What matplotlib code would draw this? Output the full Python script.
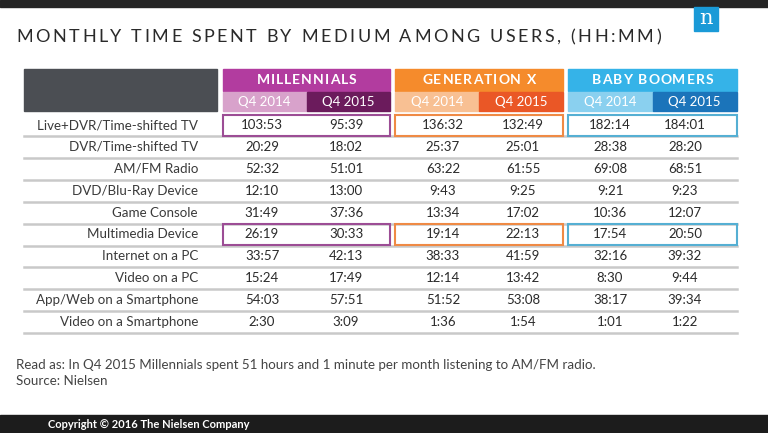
import matplotlib.pyplot as plt
from matplotlib.patches import Rectangle

media = ['Live+DVR/Time-shifted TV', 'DVR/Time-shifted TV', 'AM/FM Radio',
         'DVD/Blu-Ray Device', 'Game Console', 'Multimedia Device',
         'Internet on a PC', 'Video on a PC', 'App/Web on a Smartphone',
         'Video on a Smartphone']
groups = ['MILLENNIALS', 'GENERATION X', 'BABY BOOMERS']
quarters = ['Q4 2014', 'Q4 2015']

millennials_2014 = ['103:53', '20:29', '52:32', '12:10', '31:49', '26:19', '33:57', '15:24', '54:03', '2:30']
millennials_2015 = ['95:39', '18:02', '51:01', '13:00', '37:36', '30:33', '42:13', '17:49', '57:51', '3:09']
genx_2014 = ['136:32', '25:37', '63:22', '9:43', '13:34', '19:14', '38:33', '12:14', '51:52', '1:36']
genx_2015 = ['132:49', '25:01', '61:55', '9:25', '17:02', '22:13', '41:59', '13:42', '53:08', '1:54']
boomers_2014 = ['182:14', '28:38', '69:08', '9:21', '10:36', '17:54', '32:16', '8:30', '38:17', '1:01']
boomers_2015 = ['184:01', '28:20', '68:51', '9:23', '12:07', '20:50', '39:32', '9:44', '39:34', '1:22']
highlighted = ['Live+DVR/Time-shifted TV', 'Multimedia Device']

columns = [millennials_2014, millennials_2015, genx_2014, genx_2015, boomers_2014, boomers_2015]

group_color = ['#b23c9f', '#f58b2c', '#35b3e8']
q14_color = ['#d8a2cb', '#f8c093', '#8ad0ef']
q15_color = ['#6b1b5c', '#ea5726', '#1b74ba']
box_color = ['#9c4d95', '#ef8a45', '#55afd3']

plt.rcParams['font.family'] = ['Lato', 'DejaVu Sans']
fig = plt.figure(figsize=(7.68, 4.33), dpi=100)
ax = fig.add_axes([0, 0, 1, 1])
ax.set_xlim(0, 768)
ax.set_ylim(433, 0)
ax.axis('off')
renderer = fig.canvas.get_renderer()


def spaced_text(x, y, s, track, ha='left', **kw):
    # draw text one character at a time with extra letter spacing (px)
    widths = []
    for ch in s:
        t = ax.text(0, 0, ch if ch != ' ' else 'i', **kw)
        w = t.get_window_extent(renderer).width
        t.remove()
        widths.append(w)
    total = sum(widths) + track * (len(s) - 1)
    if ha == 'center':
        x = x - total / 2
    for ch, w in zip(s, widths):
        if ch != ' ':
            ax.text(x, y, ch, ha='left', va='center', **kw)
        x += w + track


# top and bottom bars
ax.add_patch(Rectangle((0, 0), 768, 7, color='#252525'))
ax.add_patch(Rectangle((0, 415), 768, 18, color='#1c1c1c'))
ax.text(48, 424, 'Copyright \u00a9 2016 The Nielsen Company', color='white',
        fontsize=8, va='center', fontweight='bold')

# logo
ax.add_patch(Rectangle((694, 7), 24, 24, color='#1a9ad7'))
ax.text(706, 19, 'n', color='white', fontsize=15, family='DejaVu Serif',
        ha='center', va='center')

spaced_text(16, 37, 'MONTHLY TIME SPENT BY MEDIUM AMONG USERS, (HH:MM)', 2.6,
            fontsize=13, color='#2a2a2a')

# header block
ax.add_patch(Rectangle((24, 69), 193, 42, color='#4b4e53'))
gx = [(223, 390), (395, 563), (568, 737)]
for i, g in enumerate(groups):
    x0, x1 = gx[i]
    mid = (x0 + x1) / 2
    ax.add_patch(Rectangle((x0, 69), x1 - x0, 22, color=group_color[i]))
    ax.add_patch(Rectangle((x0, 92), mid - x0, 19, color=q14_color[i]))
    ax.add_patch(Rectangle((mid, 92), x1 - mid, 19, color=q15_color[i]))
    spaced_text(mid, 80.5, g, 1.0, ha='center', color='white', fontsize=10,
                fontweight='bold')
    ax.text((x0 + mid) / 2, 101.5, quarters[0], color='white', fontsize=9.5,
            ha='center', va='center')
    ax.text((mid + x1) / 2, 101.5, quarters[1], color='white', fontsize=9.5,
            ha='center', va='center')

col_x = [262, 346, 443, 523, 610, 685]
row_h = 21.9
for r, m in enumerate(media):
    yc = 125 + r * row_h
    ax.plot([24, 737], [yc + 11, yc + 11], color='#c9c9c9', lw=1.8)
    ax.text(198, yc, m, ha='right', va='center', fontsize=9.6, color='#3a3a3a')
    if m in highlighted:
        for i in range(3):
            x0, x1 = gx[i]
            ax.add_patch(Rectangle((x0, yc - 10.5), x1 - x0, 21, fill=False,
                                   edgecolor=box_color[i], lw=1.5, zorder=3))
    for c, vals in enumerate(columns):
        ax.text(col_x[c], yc, vals[r], ha='center', va='center',
                fontsize=9.5, color='#2a2a2a')

ax.text(16, 365, 'Read as: In Q4 2015 Millennials spent 51 hours and 1 minute per month listening to AM/FM radio.',
        fontsize=9.6, color='#444444', va='center')
ax.text(16, 381, 'Source: Nielsen', fontsize=9.6, color='#444444', va='center')

fig.savefig('out.png', dpi=100)
